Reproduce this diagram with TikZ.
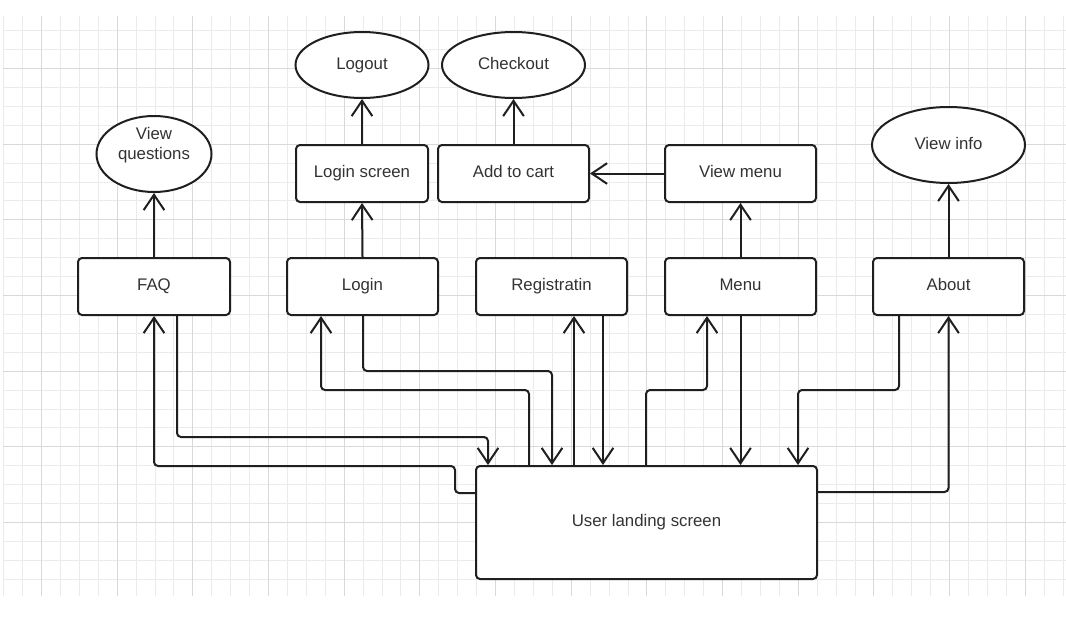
\documentclass[tikz,border=0pt]{standalone}
\usepackage{fontspec}
\setmainfont{Liberation Sans}
\usetikzlibrary{arrows.meta,shapes.geometric}
\newdimen\pxu \pxu=0.75pt

\begin{document}
\begin{tikzpicture}[x=0.75pt,y=-0.75pt,
  gridminor/.style={draw=black!8, line width=0.75pt},
  gridmajor/.style={draw=black!15, line width=1.1pt},
  txt/.style={text=black!80, font=\fontsize{12.6}{15}\selectfont,
    text height=0.75em, text depth=0.15em},
  box/.style={txt, draw=black!88, line width=1.5pt, rounded corners=3pt, fill=white,
    minimum height=57\pxu, inner sep=0pt},
  oval/.style={txt, ellipse, draw=black!88, line width=1.5pt, fill=white, inner sep=0pt},
  conn/.style={draw=black!88, line width=1.5pt, rounded corners=3pt,
    -{Straight Barb[length=11.5pt,width=15.5pt,line width=1.5pt]}},
  lbl/.style={text=black!80, font=\fontsize{12.6}{15}\selectfont, align=center, inner sep=0pt}
]
% page and background
\useasboundingbox (0,0) rectangle (1066,621);
\fill[white] (0,0) rectangle (1066,621);

% background grid, lines snapped to pixel centres
\foreach \k in {-2,...,54} {
  \pgfmathsetmacro\gx{round(41+18.92*\k)+0.5}
  \draw[gridminor] (\gx,16) -- (\gx,596);
}
\foreach \k in {-2,...,27} {
  \pgfmathsetmacro\gy{round(68+18.92*\k)+0.5}
  \draw[gridminor] (3,\gy) -- (1066,\gy);
}
\foreach \k in {0,...,13} {
  \pgfmathsetmacro\gx{round(41+75.68*\k)+0.5}
  \draw[gridmajor] (\gx,16) -- (\gx,596);
}
\foreach \k in {0,...,6} {
  \pgfmathsetmacro\gy{round(68+75.68*\k)+0.5}
  \draw[gridmajor] (3,\gy) -- (1066,\gy);
}

% second row of boxes
\node[box, minimum width=152\pxu] (faq)   at (154,286.5)   {FAQ};
\node[box, minimum width=151\pxu] (login) at (362.5,286.5) {Login};
\node[box, minimum width=151\pxu] (reg)   at (551.5,286.5) {Registratin};
\node[box, minimum width=151\pxu] (menu)  at (740.5,286.5) {Menu};
\node[box, minimum width=151\pxu] (about) at (948.5,286.5) {About};

% landing screen
\node[box, minimum width=341\pxu, minimum height=113\pxu] (land) at (646.5,522.5) {User landing screen};

% first row of boxes
\node[box, minimum width=132\pxu] (lscr)  at (362,173.5)   {Login screen};
\node[box, minimum width=151\pxu] (cart)  at (513.5,173.5) {Add to cart};
\node[box, minimum width=151\pxu] (vmenu) at (740.5,173.5) {View menu};

% end states
\node[oval, minimum width=133\pxu, minimum height=66\pxu] (logout)   at (362,65)   {Logout};
\node[oval, minimum width=143\pxu, minimum height=66\pxu] (checkout) at (513.5,65) {Checkout};
\node[oval, minimum width=115\pxu, minimum height=76\pxu] (vq)       at (154,154)  {};
\node[lbl] (vqtext) at (154,145) {View\\questions};
\node[oval, minimum width=153\pxu, minimum height=76\pxu] (vinfo)    at (948.5,145) {View info};

% upper connectors
\draw[conn] (faq.north)   -- (vq.south);
\draw[conn] (login.north) -- (lscr.south);
\draw[conn] (lscr.north)  -- (logout.south);
\draw[conn] (cart.north)  -- (checkout.south);
\draw[conn] (vmenu.west)  -- (cart.east);
\draw[conn] (menu.north)  -- (vmenu.south);
\draw[conn] (about.north) -- (vinfo.south);

% connectors between the landing screen and the second row
\draw[conn] (land.west |- 0,493) -| (455,466) -| (faq.south);
\draw[conn] (faq.south -| 177,0) |- (488,437) -- (land.north -| 488,0);
\draw[conn] (land.north -| 529,0) |- (321,390) -- (login.south -| 321,0);
\draw[conn] (login.south -| 363,0) |- (552,371) -- (land.north -| 552,0);
\draw[conn] (land.north -| 574,0) -- (reg.south -| 574,0);
\draw[conn] (reg.south -| 603,0) -- (land.north -| 603,0);
\draw[conn] (land.north -| 646,0) |- (707,390) -- (menu.south -| 707,0);
\draw[conn] (menu.south) -- (land.north -| menu.south);
\draw[conn] (about.south -| 899,0) |- (798,390) -- (land.north -| 798,0);
\draw[conn] (land.east |- 0,492) -| (about.south);
\end{tikzpicture}
\end{document}
